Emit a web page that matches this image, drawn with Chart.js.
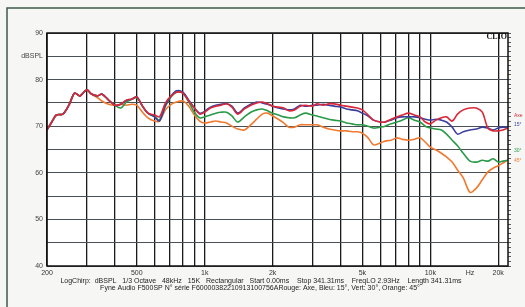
<!DOCTYPE html>
<html>
<head>
<meta charset="utf-8">
<script src="https://cdn.jsdelivr.net/npm/chart.js@4.4.1/dist/chart.umd.min.js"></script>
<style>
  html, body { margin: 0; padding: 0; background: #f6f7f5; }
  canvas { display: block; }
</style>
</head>
<body>
<canvas id="clio" width="525" height="307"></canvas>
<script>
// Frequency points (Hz)
const freqs = [200, 210, 220, 235, 250, 265, 280, 300, 315, 335, 350, 375, 400, 425, 450, 475, 500, 530, 560, 600,
  630, 670, 710, 750, 800, 850, 900, 950, 1000, 1060, 1120, 1180, 1250, 1320, 1400, 1500, 1600, 1700, 1800, 1900,
  2000, 2120, 2240, 2360, 2500, 2650, 2800, 3000, 3150, 3350, 3550, 3750, 4000, 4250, 4500, 4750, 5000, 5300, 5600, 6000,
  6300, 6700, 7100, 7500, 8000, 8500, 9000, 9500, 10000, 10600, 11200, 11800, 12500, 13200, 14000, 15000, 16000, 17000, 18000, 19000,
  20000, 21000, 22000];

// dBSPL - Rouge: Axe
const axe = [69.2, 70.9, 72.4, 72.6, 74.5, 77.1, 76.5, 77.8, 76.9, 76.5, 76.9, 75.6, 74.5, 74.7, 75.6, 75.8, 76.3, 74.3, 72.8, 72.4,
  72.0, 75.0, 76.5, 77.3, 77.1, 75.4, 73.9, 72.6, 73.0, 73.9, 74.3, 74.5, 74.8, 74.1, 72.6, 73.7, 74.5, 75.0, 75.2, 74.8,
  74.3, 74.1, 73.9, 73.3, 73.5, 74.3, 74.5, 74.3, 74.8, 74.5, 74.8, 74.8, 74.5, 74.3, 74.1, 73.9, 73.5, 72.4, 71.3, 70.9,
  70.9, 71.5, 72.0, 72.4, 72.8, 72.4, 72.0, 70.9, 70.5, 71.3, 71.8, 72.0, 71.1, 72.6, 73.5, 73.9, 73.9, 73.0, 69.6, 69.0,
  69.0, 69.2, 69.6];

// Bleu: 15°
const deg15 = [69.2, 70.9, 72.4, 72.6, 74.5, 77.1, 76.5, 77.8, 76.9, 76.5, 76.9, 75.6, 74.5, 74.7, 75.6, 75.8, 76.3, 74.3, 72.8, 72.0,
  71.1, 74.5, 76.5, 77.6, 77.3, 75.6, 73.9, 72.8, 73.2, 74.1, 74.5, 74.7, 74.8, 74.3, 72.8, 73.9, 74.7, 75.2, 75.0, 74.7,
  74.3, 73.9, 73.7, 73.5, 73.7, 74.5, 74.3, 74.5, 74.5, 74.7, 74.5, 74.3, 74.1, 73.7, 73.5, 73.3, 72.8, 72.2, 71.3, 70.9,
  70.9, 71.3, 71.8, 72.0, 72.0, 72.0, 71.8, 71.5, 71.3, 71.5, 71.3, 70.9, 69.8, 68.3, 68.8, 69.2, 69.4, 69.8, 69.6, 69.2,
  69.6, 69.8, 69.8];

// Vert: 30°
const deg30 = [69.2, 70.9, 72.4, 72.6, 74.5, 77.1, 76.5, 77.8, 76.9, 76.5, 76.9, 75.6, 74.5, 73.9, 75.2, 75.8, 76.1, 74.3, 72.8, 72.0,
  71.3, 74.3, 76.3, 77.3, 77.1, 75.2, 73.0, 71.8, 72.0, 72.4, 72.8, 73.0, 73.0, 72.2, 70.9, 72.0, 73.0, 73.5, 73.7, 73.3,
  72.8, 72.4, 72.0, 71.8, 71.8, 72.4, 72.8, 72.4, 72.2, 71.8, 71.5, 71.3, 71.1, 70.7, 70.5, 70.3, 70.3, 70.0, 69.6, 69.8,
  70.0, 70.5, 70.9, 71.3, 71.8, 71.3, 70.9, 70.0, 69.6, 69.4, 69.2, 68.3, 67.0, 65.8, 64.2, 62.5, 62.3, 62.7, 62.5, 63.0,
  62.3, 62.5, 62.7];

// Orange: 45°
const deg45 = [69.2, 70.9, 72.4, 72.6, 74.5, 77.1, 76.5, 77.8, 76.9, 76.1, 75.4, 74.7, 74.5, 74.7, 74.5, 74.7, 74.5, 73.0, 71.8, 71.1,
  71.1, 73.5, 74.7, 75.2, 75.4, 74.3, 72.4, 71.1, 70.7, 70.9, 71.1, 70.9, 70.7, 70.0, 69.4, 69.2, 70.3, 71.5, 72.6, 72.8,
  72.2, 71.5, 70.7, 69.8, 69.8, 70.3, 70.3, 70.3, 70.3, 69.8, 69.4, 69.2, 69.0, 69.0, 68.8, 68.8, 68.5, 67.5, 66.0, 66.4,
  66.8, 67.0, 67.5, 67.2, 67.0, 67.2, 67.5, 66.6, 65.5, 64.9, 64.2, 63.4, 62.3, 60.6, 58.9, 55.8, 56.7, 58.5, 60.2, 61.0,
  61.5, 62.1, 62.7];

// Axis ticks
const xGridTicks = [200, 300, 400, 500, 600, 700, 800, 900, 1000, 2000, 3000, 4000, 5000, 6000, 7000, 8000, 9000, 10000, 15000, 20000];
const xTickLabels = { 200: '200', 500: '500', 1000: '1k', 2000: '2k', 5000: '5k', 10000: '10k', 15000: 'Hz', 20000: '20k' };
const yTickLabels = { 90: '90', 85: 'dBSPL', 80: '80', 70: '70', 60: '60', 50: '50', 40: '40' };

const legendItems = [
  { text: 'Axe', color: '#d8283a', y: 116 },
  { text: '15°', color: '#3b3f9c', y: 125 },
  { text: '30°', color: '#2a9a48', y: 151 },
  { text: '45°', color: '#f07a30', y: 161 }
];

const footer1 = 'LogChirp:  dBSPL   1/3 Octave   48kHz   15K   Rectangular   Start 0.00ms    Stop 341.31ms    FreqLO 2.93Hz    Length 341.31ms';
const footer2 = 'Fyne Audio F500SP N° série F60000382210913100756ARouge: Axe, Bleu: 15°, Vert: 30°, Orange: 45°';

function toPoints(values) {
  return values.map((v, i) => ({ x: freqs[i], y: v }));
}

function series(label, values, color) {
  return {
    label: label,
    data: toPoints(values),
    borderColor: color,
    borderWidth: 1.6,
    pointRadius: 0,
    tension: 0.3,
    fill: false
  };
}

const decor = {
  id: 'decor',
  beforeDraw(chart) {
    const ctx = chart.ctx;
    const a = chart.chartArea;
    ctx.save();
    ctx.fillStyle = '#ffffff';
    ctx.fillRect(a.left, a.top, a.right - a.left, a.bottom - a.top);
    // outer frame
    ctx.strokeStyle = '#3f5a48';
    ctx.lineWidth = 1.5;
    ctx.beginPath();
    ctx.moveTo(525, 8);
    ctx.lineTo(7, 8);
    ctx.lineTo(7, 307);
    ctx.stroke();
    ctx.restore();
  },
  afterDraw(chart) {
    const ctx = chart.ctx;
    const a = chart.chartArea;
    ctx.save();
    ctx.strokeStyle = '#111';
    ctx.lineWidth = 1.5;
    ctx.strokeRect(a.left, a.top, a.right - a.left, a.bottom - a.top);

    ctx.fillStyle = '#111';
    ctx.font = 'bold 8px "Liberation Serif"';
    ctx.textAlign = 'right';
    ctx.textBaseline = 'middle';
    ctx.fillText('CLIO', a.right - 1, a.top + 4);

    ctx.font = '5px "Liberation Sans"';
    ctx.textAlign = 'left';
    legendItems.forEach(item => {
      ctx.fillStyle = item.color;
      ctx.fillText(item.text, a.right + 6, item.y);
    });

    ctx.fillStyle = '#222';
    ctx.font = '7px "Liberation Sans"';
    ctx.textAlign = 'center';
    ctx.fillText(footer1, 261, 281, 452);
    ctx.fillText(footer2, 260, 288, 345);
    ctx.restore();
  }
};

new Chart(document.getElementById('clio'), {
  type: 'line',
  data: {
    datasets: [
      series('Axe', axe, '#d8283a'),
      series('15°', deg15, '#3b3f9c'),
      series('30°', deg30, '#2a9a48'),
      series('45°', deg45, '#f07a30')
    ]
  },
  options: {
    responsive: false,
    animation: false,
    layout: { padding: { top: 33, left: 0, right: 0, bottom: 0 } },
    plugins: {
      legend: { display: false },
      tooltip: { enabled: false }
    },
    scales: {
      x: {
        type: 'logarithmic',
        min: 200,
        max: 22100,
        afterBuildTicks: scale => { scale.ticks = xGridTicks.map(v => ({ value: v })); },
        afterFit: scale => { scale.height = 41; },
        grid: {
          color: ctx => (ctx.tick && ctx.tick.value === 15000) ? 'rgba(0,0,0,0)' : '#1a1a1a',
          lineWidth: 1.3,
          drawTicks: false
        },
        border: { display: false },
        ticks: {
          autoSkip: false,
          maxRotation: 0,
          padding: 3,
          color: '#333',
          font: { family: 'Liberation Sans', size: 7 },
          callback: value => xTickLabels[value] || ''
        }
      },
      y: {
        min: 40,
        max: 90,
        afterFit: scale => { scale.width = 47; },
        grid: {
          color: ctx => (ctx.tick && ctx.tick.value % 5 === 0) ? '#4a4f55' : 'rgba(0,0,0,0)',
          lineWidth: 1,
          drawTicks: false
        },
        border: { display: false },
        ticks: {
          stepSize: 1,
          autoSkip: false,
          padding: 4,
          color: '#444',
          font: { family: 'Liberation Sans', size: 7 },
          callback: value => yTickLabels[value] || ''
        }
      },
      yr: {
        position: 'right',
        min: 40,
        max: 90,
        afterFit: scale => { scale.width = 17; },
        grid: { drawOnChartArea: false, tickLength: 3, color: '#333', lineWidth: 0.8 },
        border: { display: false },
        ticks: { stepSize: 1, autoSkip: false, display: false }
      }
    }
  },
  plugins: [decor]
});
</script>
</body>
</html>
